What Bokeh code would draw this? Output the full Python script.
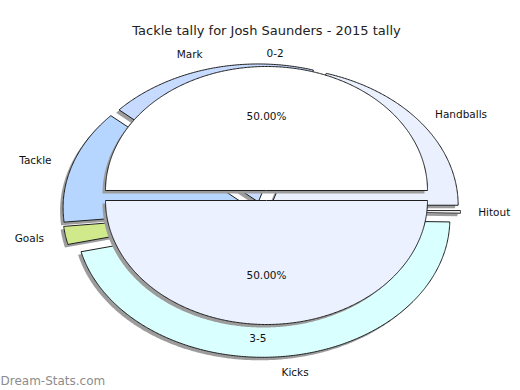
import numpy as np
from bokeh.plotting import figure
from bokeh.models import ColumnDataSource, Range1d
from bokeh.core.properties import value
from bokeh.embed import file_html
from bokeh.resources import INLINE

# ---------------- data ----------------
title_text = "Tackle tally for Josh Saunders - 2015 tally"
outer_labels = ["Handballs", "Mark", "Tackle", "Goals", "Kicks", "Hitout"]
outer_values = [67, 60, 44, 7, 152, 1]
outer_colors = ["#eaf0fe", "#c6dbff", "#b7d6ff", "#cfe98b", "#d9ffff", "#ffffff"]
inner_labels = ["0-2", "3-5"]
inner_values = [8, 8]
inner_colors = ["#ffffff", "#ebf1fe"]
watermark = "Dream-Stats.com"

# ---------------- layout ----------------
W, H = 520, 390
FONT = value("DejaVu Sans")
SHADOW_DX, SHADOW_DY = -3, 3
SHADOW_COLOR = "#9c9c9c"
EDGE = "#1e1e1e"

p = figure(width=W, height=H, x_range=Range1d(0, W), y_range=Range1d(H, 0),
           output_backend="svg", toolbar_location=None, min_border=0,
           x_axis_type=None, y_axis_type=None)
p.outline_line_color = None
p.background_fill_color = "white"
p.border_fill_color = "white"


def ring(values, cx, cy, rx, ry, explode, label_r, pct_r):
    vals = np.asarray(values, float)
    frac = vals / vals.sum()
    edges = np.concatenate([[0.0], np.cumsum(frac)]) * 360.0
    out = dict(xs=[], ys=[], sxs=[], sys=[], mid=[], ox=[], oy=[], frac=list(frac))
    for a0, a1 in zip(edges[:-1], edges[1:]):
        m = np.radians((a0 + a1) / 2)
        ox = explode * np.cos(m)
        oy = -explode * (ry / rx) * np.sin(m)
        n = max(3, int((a1 - a0) * 2) + 2)
        t = np.radians(np.linspace(a0, a1, n))
        px = np.concatenate([[cx + ox], cx + ox + rx * np.cos(t)])
        py = np.concatenate([[cy + oy], cy + oy - ry * np.sin(t)])
        out["xs"].append(list(px))
        out["ys"].append(list(py))
        out["sxs"].append(list(px + SHADOW_DX))
        out["sys"].append(list(py + SHADOW_DY))
        out["mid"].append(m)
        out["ox"].append(ox)
        out["oy"].append(oy)
    return out


def draw_ring(r, colors):
    p.patches(xs=r["sxs"], ys=r["sys"], fill_color=SHADOW_COLOR, line_color=None)
    src = ColumnDataSource(dict(xs=r["xs"], ys=r["ys"], color=colors))
    p.patches(xs="xs", ys="ys", source=src, fill_color="color",
              line_color=EDGE, line_width=1)


# outer ring (categories)
OCX, OCY, ORX, ORY = 261, 210, 187, 138
outer = ring(outer_values, OCX, OCY, ORX, ORY, 12, 1.18, 0.6)
# inner pie (tackle bands)
ICX, ICY, IRX, IRY = 266, 195, 161, 124
inner = ring(inner_values, ICX, ICY, IRX, IRY, 6.5, 1.15, 0.6)

draw_ring(outer, outer_colors)
draw_ring(inner, inner_colors)

# outer labels
lx, ly, la = [], [], []
for m in outer["mid"]:
    c = np.cos(m)
    x = OCX + 1.18 * ORX * c
    y = OCY - 1.18 * ORY * np.sin(m)
    if c > 0:
        lx.append(x - 4); la.append("left")
    else:
        lx.append(x); la.append("right")
    ly.append(y)
p.text(x="x", y="y", text="t", text_align="a",
       source=ColumnDataSource(dict(x=lx, y=ly, t=outer_labels, a=la)),
       text_font=FONT, text_font_size="10.5px", text_color="#111111",
       text_baseline="middle")

# inner labels
ix, iy, ia = [], [], []
for m in inner["mid"]:
    c = np.cos(m)
    ix.append(ICX + 1.15 * IRX * c)
    iy.append(ICY - 1.15 * IRY * np.sin(m))
    ia.append("left" if c > 0 else "right")
p.text(x="x", y="y", text="t", text_align="a",
       source=ColumnDataSource(dict(x=ix, y=iy, t=inner_labels, a=ia)),
       text_font=FONT, text_font_size="10.5px", text_color="#111111",
       text_baseline="middle")

# inner percentages
px_, py_, pt = [], [], []
for m, ox, oy, f in zip(inner["mid"], inner["ox"], inner["oy"], inner["frac"]):
    px_.append(ICX + ox + 0.6 * IRX * np.cos(m))
    py_.append(ICY + oy - 0.6 * IRY * np.sin(m))
    pt.append("%.2f%%" % (f * 100))
p.text(x="x", y="y", text="t",
       source=ColumnDataSource(dict(x=px_, y=py_, t=pt)),
       text_font=FONT, text_font_size="10.5px", text_color="#111111",
       text_align="center", text_baseline="middle")

# title and watermark
p.text(x=[266], y=[30], text=[title_text], text_font=FONT, text_font_size="13px",
       text_color="#222222", text_align="center", text_baseline="middle")
p.text(x=[0], y=[380], text=[watermark], text_font=FONT, text_font_size="12px",
       text_color="#8c8c8c", text_align="left", text_baseline="middle")

open("out.html", "w").write(file_html(p, INLINE))
